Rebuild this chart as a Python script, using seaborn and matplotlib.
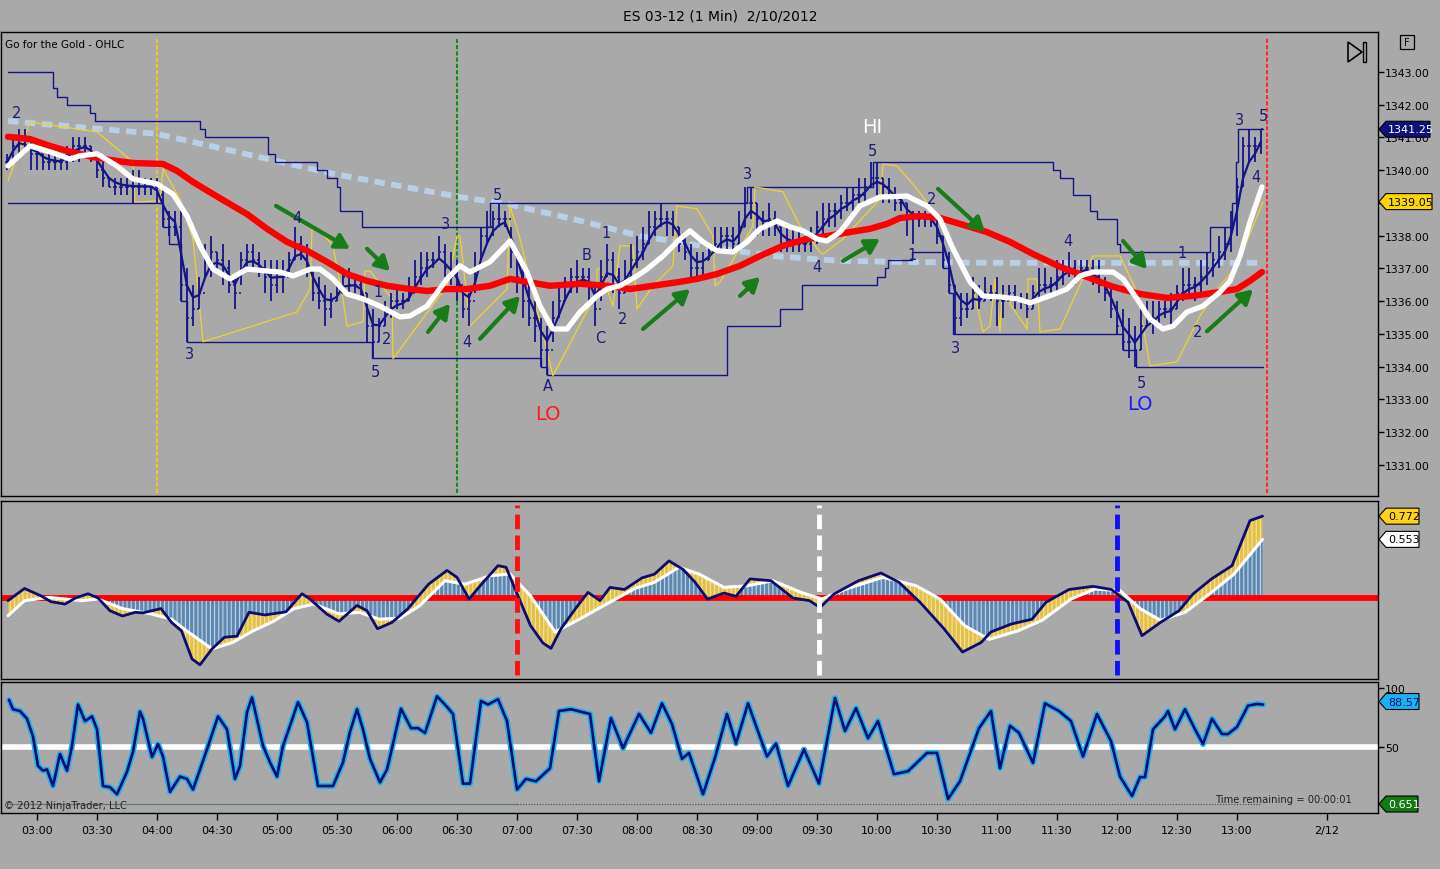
import numpy as np
import pandas as pd
import matplotlib
matplotlib.use("Agg")
import matplotlib.pyplot as plt
import matplotlib.transforms as mtransforms
from matplotlib.patches import Polygon, Rectangle
from matplotlib.ticker import FuncFormatter
import seaborn as sns

# ======================= DATA =======================
# 3-minute OHLC bars (ES 03-12), first bar at 02:45, minutes after midnight
bar_first_minute = 165
bar_minutes_step = 3
bar_high = [
    1340.5, 1341.0, 1341.25, 1341.25, 1341.0, 1340.75, 1340.5, 1340.5, 1340.5, 1340.5,
    1340.75, 1341.0, 1341.0, 1341.0, 1340.75, 1340.5, 1340.25, 1339.75, 1339.75, 1339.75,
    1339.75, 1340.0, 1340.0, 1339.75, 1339.75, 1339.75, 1339.5, 1338.75, 1338.75, 1338.75,
    1337.0, 1336.5, 1336.75, 1337.75, 1338.0, 1337.5, 1337.75, 1337.25, 1336.75, 1337.5,
    1337.75, 1337.75, 1337.5, 1337.25, 1337.25, 1337.25, 1337.25, 1337.5, 1338.25, 1338.0,
    1337.75, 1337.0, 1336.75, 1336.5, 1336.25, 1336.5, 1337.0, 1337.0, 1336.75, 1336.75,
    1336.25, 1335.75, 1335.5, 1336.0, 1336.25, 1336.5, 1336.25, 1336.75, 1337.25, 1337.5,
    1337.5, 1337.5, 1338.0, 1337.75, 1337.5, 1337.25, 1336.25, 1336.25, 1337.5, 1338.25,
    1338.75, 1338.75, 1339.0, 1338.75, 1338.25, 1337.5, 1337.25, 1336.75, 1336.0, 1335.5,
    1335.25, 1336.0, 1336.5, 1336.75, 1337.0, 1337.25, 1337.0, 1337.0, 1336.5, 1337.25,
    1337.75, 1337.5, 1337.0, 1337.25, 1337.75, 1338.0, 1338.25, 1338.75, 1338.75, 1339.0,
    1338.75, 1338.75, 1338.25, 1338.0, 1337.75, 1337.5, 1337.5, 1337.75, 1338.25, 1338.25,
    1338.25, 1338.25, 1338.75, 1339.5, 1339.5, 1339.0, 1338.75, 1339.0, 1338.75, 1338.25,
    1338.25, 1338.25, 1338.25, 1338.0, 1338.25, 1338.75, 1339.0, 1339.0, 1339.0, 1339.25,
    1339.5, 1339.5, 1339.75, 1339.75, 1340.25, 1340.25, 1339.75, 1339.75, 1339.5, 1339.25,
    1339.0, 1338.75, 1338.75, 1338.75, 1338.75, 1338.5, 1338.0, 1337.5, 1336.5, 1336.25,
    1336.25, 1336.75, 1336.5, 1336.75, 1336.5, 1336.75, 1336.5, 1336.5, 1336.5, 1336.25,
    1336.25, 1336.5, 1337.0, 1337.0, 1336.75, 1337.25, 1337.25, 1337.5, 1337.25, 1337.25,
    1337.25, 1337.25, 1337.25, 1336.75, 1336.5, 1336.0, 1335.75, 1335.5, 1335.25, 1335.75,
    1336.0, 1336.0, 1336.0, 1336.0, 1336.25, 1336.5, 1337.0, 1337.0, 1336.75, 1337.25,
    1337.5, 1337.5, 1338.0, 1338.25, 1338.75, 1339.75, 1341.0, 1341.25, 1341.0, 1341.25,
]
bar_low = [
    1340.0, 1340.25, 1340.5, 1340.5, 1340.0, 1340.0, 1340.0, 1340.0, 1340.0, 1340.0,
    1340.0, 1340.25, 1340.25, 1340.5, 1340.25, 1339.75, 1339.5, 1339.5, 1339.25, 1339.25,
    1339.25, 1339.0, 1339.25, 1339.25, 1339.25, 1339.0, 1338.25, 1338.0, 1338.0, 1336.0,
    1334.75, 1335.25, 1335.75, 1336.75, 1336.75, 1337.0, 1336.5, 1336.25, 1335.75, 1336.5,
    1337.0, 1337.0, 1336.75, 1336.25, 1336.0, 1336.25, 1336.25, 1336.75, 1337.25, 1337.25,
    1336.75, 1336.0, 1335.75, 1335.25, 1335.5, 1336.0, 1336.25, 1336.25, 1336.25, 1336.0,
    1334.75, 1334.25, 1334.75, 1335.25, 1335.5, 1335.75, 1335.75, 1336.0, 1336.25, 1336.5,
    1336.75, 1337.0, 1337.25, 1336.75, 1336.5, 1336.0, 1335.5, 1335.25, 1336.25, 1337.25,
    1337.75, 1338.0, 1338.25, 1338.25, 1337.0, 1336.25, 1335.5, 1335.25, 1334.75, 1334.0,
    1333.75, 1334.75, 1335.5, 1336.0, 1336.25, 1336.25, 1336.5, 1336.0, 1335.25, 1336.0,
    1336.75, 1336.25, 1335.75, 1336.25, 1336.75, 1337.0, 1337.25, 1337.75, 1338.0, 1338.25,
    1338.0, 1338.0, 1337.5, 1337.25, 1336.75, 1336.75, 1336.75, 1337.25, 1337.5, 1337.5,
    1337.5, 1337.5, 1337.75, 1338.25, 1338.5, 1338.0, 1338.0, 1338.0, 1338.0, 1337.5,
    1337.5, 1337.5, 1337.5, 1337.5, 1337.5, 1337.75, 1338.0, 1338.25, 1338.25, 1338.5,
    1338.75, 1338.75, 1339.0, 1339.0, 1339.5, 1339.25, 1339.0, 1339.0, 1338.75, 1338.75,
    1338.0, 1337.75, 1338.25, 1338.25, 1338.25, 1337.75, 1337.0, 1336.25, 1335.0, 1335.25,
    1335.5, 1335.75, 1335.75, 1336.0, 1336.0, 1335.25, 1335.5, 1336.0, 1335.75, 1335.75,
    1335.5, 1335.75, 1336.0, 1336.25, 1336.25, 1336.25, 1336.5, 1336.75, 1336.5, 1336.75,
    1336.75, 1336.5, 1336.25, 1336.0, 1335.5, 1335.0, 1334.5, 1334.25, 1334.0, 1334.5,
    1335.25, 1335.0, 1335.25, 1335.5, 1335.25, 1335.75, 1336.0, 1336.25, 1336.0, 1336.25,
    1336.5, 1336.75, 1337.0, 1337.25, 1337.5, 1338.0, 1339.5, 1340.25, 1340.25, 1340.5,
]
bar_close = [
    1340.25, 1340.75, 1341.0, 1340.75, 1340.5, 1340.5, 1340.25, 1340.25, 1340.25, 1340.25,
    1340.5, 1340.75, 1340.75, 1340.75, 1340.5, 1340.0, 1339.75, 1339.5, 1339.5, 1339.5,
    1339.5, 1339.5, 1339.5, 1339.5, 1339.5, 1339.25, 1338.5, 1338.25, 1338.25, 1336.5,
    1335.5, 1335.75, 1336.25, 1337.25, 1337.5, 1337.25, 1337.0, 1336.5, 1336.25, 1337.25,
    1337.5, 1337.25, 1337.0, 1336.75, 1336.5, 1336.75, 1336.75, 1337.25, 1337.75, 1337.5,
    1337.0, 1336.25, 1336.0, 1335.75, 1336.0, 1336.25, 1336.75, 1336.5, 1336.5, 1336.25,
    1335.25, 1334.75, 1335.25, 1335.75, 1336.0, 1336.0, 1336.0, 1336.25, 1336.75, 1337.0,
    1337.25, 1337.25, 1337.5, 1337.0, 1336.75, 1336.5, 1335.75, 1336.0, 1337.0, 1338.0,
    1338.25, 1338.5, 1338.5, 1338.5, 1337.5, 1336.75, 1336.0, 1335.5, 1335.25, 1334.5,
    1334.5, 1335.5, 1336.0, 1336.5, 1336.75, 1336.75, 1336.75, 1336.5, 1335.75, 1336.75,
    1337.25, 1336.75, 1336.25, 1336.75, 1337.25, 1337.5, 1337.75, 1338.25, 1338.5, 1338.5,
    1338.5, 1338.25, 1337.75, 1337.5, 1337.0, 1337.0, 1337.25, 1337.5, 1337.75, 1338.0,
    1338.0, 1337.75, 1338.25, 1339.0, 1339.0, 1338.5, 1338.25, 1338.5, 1338.25, 1337.75,
    1337.75, 1337.75, 1337.75, 1337.75, 1338.0, 1338.25, 1338.5, 1338.75, 1338.75, 1339.0,
    1339.0, 1339.25, 1339.25, 1339.5, 1339.75, 1339.75, 1339.5, 1339.25, 1339.0, 1339.0,
    1338.5, 1338.5, 1338.5, 1338.5, 1338.5, 1338.0, 1337.25, 1336.5, 1335.5, 1335.75,
    1335.75, 1336.25, 1336.0, 1336.25, 1336.25, 1336.0, 1336.0, 1336.25, 1336.0, 1336.0,
    1335.75, 1336.25, 1336.5, 1336.5, 1336.5, 1336.75, 1337.0, 1337.0, 1336.75, 1337.0,
    1337.0, 1336.75, 1336.5, 1336.25, 1335.75, 1335.25, 1334.75, 1334.75, 1334.5, 1335.25,
    1335.5, 1335.5, 1335.75, 1335.75, 1335.75, 1336.25, 1336.5, 1336.5, 1336.5, 1336.75,
    1337.0, 1337.25, 1337.5, 1337.75, 1338.5, 1339.5, 1340.75, 1340.75, 1340.75, 1341.25,
]

# fast moving average (white)
fast_t = [165.5, 176.5, 186.5, 196.5, 201.5, 210, 220, 228, 240, 248, 255, 261.5, 268, 276.5, 285,
          295, 301.5, 308, 316.5, 321.5, 328, 335, 343, 351.5, 361.5, 366.5, 375, 385, 391.5, 396.5,
          406.5, 416.5, 425, 431.5, 438, 445, 451.5, 460, 465, 471.5, 480, 485, 493, 501.5, 506.5,
          513, 520, 528, 535, 541.5, 550, 556.5, 563, 570, 575, 581.5, 591.5, 601.5, 615, 625,
          631.5, 638, 646.5, 653, 661.5, 670, 676.5, 685, 695, 701.5, 708, 718, 723, 730, 736.5,
          743, 748, 755, 763, 771.5, 776.5, 781.5, 786.5, 792.5]
fast_v = [1340.13, 1340.74, 1340.56, 1340.34, 1340.44, 1340.5, 1340.13, 1339.73, 1339.58, 1339.27,
          1338.6, 1337.69, 1336.98, 1336.68, 1336.98, 1336.92, 1336.89, 1336.77, 1336.98, 1336.98,
          1336.68, 1336.22, 1336.07, 1335.85, 1335.52, 1335.55, 1335.85, 1336.68, 1337.08, 1336.89,
          1337.2, 1337.84, 1336.89, 1335.85, 1335.15, 1335.15, 1335.67, 1336.16, 1336.37, 1336.47,
          1336.77, 1336.98, 1337.38, 1337.9, 1338.15, 1337.81, 1337.54, 1337.5, 1337.81, 1338.21,
          1338.45, 1338.27, 1338.15, 1337.9, 1337.84, 1338.11, 1338.91, 1339.18, 1339.21, 1338.91,
          1338.51, 1337.6, 1336.59, 1336.16, 1336.13, 1336.07, 1335.95, 1336.13, 1336.37, 1336.77,
          1336.89, 1336.89, 1336.68, 1336.07, 1335.46, 1335.15, 1335.24, 1335.67, 1335.85, 1336.28,
          1336.62, 1337.38, 1338.42, 1339.49]

# slow moving average (red)
slow_t = [165.5, 176.5, 186.5, 195, 208, 220, 228, 243, 250, 258, 268, 278, 285, 295, 305,
          315, 325, 335, 345, 355, 366.5, 375, 385, 395, 406.5, 416.5, 425, 436.5, 451.5, 465,
          476.5, 488, 501.5, 510, 520, 531.5, 541.5, 553, 565, 575, 586.5, 596.5, 605, 611.5, 621.5,
          631.5, 641.5, 655, 666.5, 678, 691.5, 705, 718, 731.5, 745, 758, 768, 780, 786.5, 792.5]
slow_v = [1341.02, 1340.95, 1340.74, 1340.59, 1340.4, 1340.28, 1340.22, 1340.19, 1339.98, 1339.64,
          1339.27, 1338.91, 1338.66, 1338.21, 1337.81, 1337.54, 1337.2, 1336.83, 1336.62, 1336.47,
          1336.37, 1336.31, 1336.37, 1336.37, 1336.47, 1336.68, 1336.59, 1336.47, 1336.53, 1336.47,
          1336.37, 1336.47, 1336.59, 1336.68, 1336.83, 1337.08, 1337.38, 1337.69, 1337.9, 1337.99,
          1338.11, 1338.21, 1338.36, 1338.54, 1338.6, 1338.54, 1338.36, 1338.11, 1337.81, 1337.44,
          1337.05, 1336.74, 1336.44, 1336.22, 1336.1, 1336.16, 1336.25, 1336.37, 1336.62, 1336.89]

# long trend average (light blue dashed)
trend_t = [165.5, 240, 328, 391.5, 415, 448, 481.5, 515, 548, 581.5, 611.5, 658, 725, 792.5]
trend_v = [1341.5, 1341.11, 1339.89, 1339.18, 1338.97, 1338.51, 1337.99, 1337.66, 1337.38, 1337.23,
           1337.2, 1337.17, 1337.17, 1337.17]

# price channel (navy step lines)
upper_t = [165.5, 188, 190, 195, 206.5, 209, 261.5, 264, 295.5, 299, 320, 325, 330, 331.5, 342.5,
           406.5, 535, 598, 688, 691.5, 698, 706.5, 710, 720, 721.5, 766.5, 777.5, 779.5, 780.5, 793]
upper_v = [1343.0, 1342.5, 1342.25, 1342.0, 1341.75, 1341.5, 1341.25, 1341.0, 1340.5, 1340.25,
           1340.0, 1339.75, 1339.5, 1338.75, 1338.25, 1339.0, 1339.5, 1340.25, 1340.0, 1339.75,
           1339.25, 1338.75, 1338.5, 1337.75, 1337.5, 1338.25, 1339.0, 1340.25, 1341.25, 1341.25]
lower_t = [165.5, 243, 246, 252, 255, 347.5, 432, 435, 524, 525, 551.5, 562.5, 600, 604, 605.5,
           617.5, 633, 636, 638, 723, 729.5, 793]
lower_v = [1339.0, 1338.25, 1337.75, 1336.0, 1334.75, 1334.25, 1334.0, 1333.75, 1333.75, 1335.25,
           1335.75, 1336.5, 1336.75, 1337.0, 1337.25, 1337.5, 1337.0, 1336.25, 1335.0, 1334.5,
           1334.0, 1334.0]

# thin yellow trailing line
trail_t = [165.5, 176.5, 210, 228, 229, 241.5, 243, 251.5, 258, 263, 310, 316.5, 317.5, 321.5, 328,
           333, 335, 343, 344, 346.5, 357.5, 358, 385, 390, 391.5, 396.5, 415, 416.5, 421.5, 438,
           460, 460, 461.5, 468, 471.5, 478, 480, 488, 498, 500, 510, 518, 519, 521.5, 538,
           539, 553, 561.5, 571.5, 573, 583, 601.5, 603, 610, 620, 630, 641.5, 648, 653, 656.5,
           659, 661.5, 662.5, 675, 675.5, 680, 681.5, 691.5, 708, 721.5, 730, 736.5, 750, 761.5,
           771.5, 780, 793]
trail_v = [1339.67, 1341.47, 1341.17, 1340.25, 1339.03, 1339.06, 1340.04, 1339.12, 1337.9, 1334.76,
           1335.67, 1336.37, 1338.21, 1338.15, 1337.69, 1336.07, 1335.24, 1335.37, 1336.92, 1336.92,
           1336.07, 1334.24, 1336.47, 1337.99, 1337.99, 1335.24, 1336.37, 1338.91, 1337.9, 1333.72,
           1336.28, 1336.98, 1336.98, 1335.85, 1337.69, 1337.69, 1335.76, 1336.47, 1337.08, 1338.91,
           1338.82, 1337.99, 1336.47, 1336.59, 1338.3, 1339.49, 1339.34, 1338.3, 1337.5, 1337.44,
           1337.9, 1339.12, 1340.19, 1340.13, 1339.43, 1338.6, 1337.08, 1336.47, 1335.06, 1335.24,
           1336.68, 1335.06, 1336.28, 1335.15, 1336.68, 1336.68, 1335.06, 1335.15, 1337.38, 1337.38,
           1336.28, 1334.02, 1334.15, 1335.55, 1336.47, 1337.08, 1339.04]

# wave labels
wave_text = ["2", "3", "4", "5", "1", "2", "3", "4", "5", "A", "B", "C", "1", "2", "3", "4", "5",
             "1", "2", "3", "4", "5", "1", "2", "3", "5", "4"]
wave_t = [170, 256.5, 310, 349, 350.5, 355, 384, 395, 410, 435.5, 455, 461.5, 464.5, 473, 535.5,
          570, 597.5, 617.5, 627.5, 639, 695.5, 732, 752.5, 760.5, 781.5, 793, 789.5]
wave_p = [1341.75, 1334.4, 1338.57, 1333.84, 1336.28, 1334.85, 1338.36, 1334.76, 1339.27, 1333.41,
          1337.44, 1334.9, 1338.11, 1335.46, 1339.89, 1337.05, 1340.59, 1337.44, 1339.15, 1334.6,
          1337.84, 1333.53, 1337.5, 1335.06, 1341.56, 1341.66, 1339.82]
big_text = ["LO", "HI", "LO"]
big_t = [435.5, 597.5, 731.5]
big_p = [1332.56, 1341.32, 1332.86]
big_color = ["#ff1a1a", "white", "#1a1aff"]

# green arrows (start time, start price, end time, end price)
arrow_t0 = [299.5, 345, 375.5, 401.5, 483, 531.5, 583, 630.5, 723, 765]
arrow_p0 = [1338.91, 1337.6, 1335.06, 1334.85, 1335.15, 1336.16, 1337.23, 1339.43, 1337.84, 1335.08]
arrow_t1 = [336.5, 356.5, 386.5, 421.5, 506.5, 541.5, 601.5, 654, 735, 788]
arrow_p1 = [1337.6, 1336.92, 1335.92, 1336.16, 1336.37, 1336.74, 1337.9, 1338.11, 1336.98, 1336.36]

# MACD panel
macd_t = [165.5, 173.75, 182, 187, 194, 199.25, 205.5, 210.5, 216.5, 222.75, 229, 233, 242, 247.25,
          252.25, 257.5, 261.5, 267.5, 273.75, 280, 286, 294, 304.5, 312.5, 316.5, 324.75, 331, 340,
          345, 350.25, 357.5, 365.5, 375.75, 385, 390, 396, 402.25, 410.5, 414.5, 420.5, 426.75, 433,
          437, 442, 449.25, 455.5, 461.5, 466.5, 473.75, 482.5, 488.75, 496, 503, 509, 515.25, 523.5,
          529.5, 536.5, 547, 558, 566.25, 571.5, 578.5, 590.75, 602, 611, 621.5, 633.5, 642.75, 652,
          657, 667.25, 677.5, 684.5, 696, 708, 717.25, 725.5, 732.5, 741.75, 751, 758, 767.25, 777.5,
          786.5, 792.75]
macd_v = [-0.025, 0.09, 0.02, -0.035, -0.057, 0.0, 0.04, 0.0, -0.12, -0.17, -0.135, -0.14, -0.10,
          -0.23, -0.31, -0.575, -0.63, -0.48, -0.37, -0.36, -0.135, -0.16, -0.13, 0.04, -0.01, -0.15,
          -0.22, -0.07, -0.12, -0.29, -0.23, -0.10, 0.13, 0.26, 0.195, -0.01, 0.13, 0.305, 0.29, 0.02,
          -0.26, -0.425, -0.475, -0.29, -0.10, 0.053, -0.025, 0.10, 0.08, 0.19, 0.225, 0.35, 0.27,
          0.15, -0.01, 0.047, 0.016, 0.18, 0.163, 0.0, -0.025, -0.09, 0.038, 0.163, 0.236, 0.148,
          -0.04, -0.29, -0.51, -0.42, -0.32, -0.245, -0.2, -0.04, 0.08, 0.11, 0.08, -0.04, -0.355,
          -0.23, -0.12, 0.038, 0.18, 0.305, 0.73, 0.772]
signal_t = [165.5, 173.75, 186, 202.3, 210.5, 222.75, 237, 247.25, 255.5, 267.5, 277.75, 288, 298.25,
            308.5, 318.5, 331, 341, 351.25, 361.5, 371.5, 384, 394, 406.5, 416.5, 426.75, 439, 451.25,
            463.5, 479, 488.75, 501, 511, 523.5, 535.5, 548, 562, 572.5, 584.5, 603, 619.5, 631.5,
            643.75, 656, 670.5, 682.5, 697, 709, 721.5, 731.5, 741.75, 754, 766.25, 778.5, 792.75]
signal_v = [-0.167, -0.025, 0.006, -0.025, -0.01, -0.10, -0.15, -0.2, -0.32, -0.48, -0.42, -0.31,
            -0.22, -0.10, -0.057, -0.15, -0.135, -0.2, -0.19, -0.07, 0.163, 0.13, 0.21, 0.226, 0.02,
            -0.32, -0.2, -0.07, 0.09, 0.148, 0.29, 0.226, 0.1, 0.116, 0.163, 0.053, -0.01, 0.085,
            0.195, 0.116, -0.01, -0.26, -0.39, -0.31, -0.21, -0.01, 0.085, 0.07, -0.10, -0.21, -0.135,
            0.038, 0.226, 0.553]

# Stochastic panel
stoch_t = [166, 168, 171.5, 175, 178, 180.5, 183, 185, 188, 191.5, 195, 197.5, 200.5, 204, 207.5,
           210, 213, 216.5, 220, 225, 228, 231.5, 233, 237.5, 240.5, 243, 246.5, 251.5, 255, 258,
           265, 270.5, 275, 279, 281.5, 285, 287.5, 293, 296.5, 300, 303, 306.5, 310.5, 315, 320.5,
           324, 328, 333, 336.5, 340, 343, 346.5, 351.5, 355, 356, 362, 367, 370.5, 374, 380,
           384.5, 388, 393, 396.5, 402, 405.5, 410.5, 415, 420, 424.5, 429.5, 436.5, 441, 447, 450.5,
           456.5, 461, 467, 473, 481, 487, 492.5, 497.5, 502.5, 506, 513, 519, 525, 529.5, 535.5,
           545, 549.5, 555.5, 563.5, 571, 579, 584, 589.5, 595.5, 600.5, 608.5, 615.5, 625, 630,
           635.5, 641.5, 651, 657, 661.5, 666.5, 671, 678, 684, 691, 697, 703, 710, 717, 721.5,
           727.5, 731.5, 734, 738, 744, 745.5, 749, 754, 759, 763, 767.5, 772.5, 775.5, 780, 785.5,
           790, 793]
stoch_v = [90, 82, 80.5, 74, 59, 34, 30, 31, 17, 44, 30, 51, 86, 72, 76, 65, 17, 16, 10, 29, 46, 80,
           74, 41.5, 52.5, 42, 12, 25, 23, 14, 48, 76, 65, 23, 34, 79.5, 92, 51, 37, 25, 51, 68, 88,
           71, 17, 17, 17, 37, 63, 82, 65, 40, 20, 31, 38, 82.5, 66, 66, 62, 93, 85, 78, 19, 19, 89,
           86, 90.5, 72, 14, 23, 21, 32, 80.5, 82, 80.5, 78, 21, 74.5, 49, 78, 62, 87, 69.5, 40, 45,
           10, 41, 78, 53, 87, 42, 53, 17, 48, 19, 91.5, 63.5, 83, 57.5, 72, 27, 29.5, 45, 45, 6, 21,
           66, 80.5, 32, 68, 62, 36.5, 87, 80.5, 72, 42, 78, 55, 25, 8.5, 24.5, 24.5, 65, 76, 80.5,
           65, 82, 65, 52.5, 74, 61, 61, 67, 85, 86.5, 86]
aux_level = 1.7      # faint green indicator at bottom of stochastic panel

# x axis ticks (minutes after midnight)
tick_minutes = [180, 210, 240, 270, 300, 330, 360, 390, 420, 450, 480, 510, 540, 570, 600, 630, 660,
                690, 720, 750, 780, 825]
tick_labels = ["03:00", "03:30", "04:00", "04:30", "05:00", "05:30", "06:00", "06:30", "07:00",
               "07:30", "08:00", "08:30", "09:00", "09:30", "10:00", "10:30", "11:00", "11:30",
               "12:00", "12:30", "13:00", "2/12"]
price_ticks = [1331, 1332, 1333, 1334, 1335, 1336, 1337, 1338, 1339, 1340, 1341, 1342, 1343]
hidden_price_tick = 1339   # covered by the yellow value tag in the reference

# ======================= STYLE =======================
BG = "#a9a9a9"
NAVY = "#14148a"
sns.set_theme(style="white")
plt.rcParams["font.family"] = ["DejaVu Sans"]
plt.rcParams["hatch.linewidth"] = 0.8

W, H = 1440, 870
fig = plt.figure(figsize=(14.4, 8.7), dpi=100, facecolor=BG)


def rect(x0, y0, x1, y1):
    return [x0 / W, 1 - y1 / H, (x1 - x0) / W, (y1 - y0) / H]


ax_p = fig.add_axes(rect(1, 33, 1378, 497))
ax_m = fig.add_axes(rect(1, 502, 1378, 680))
ax_s = fig.add_axes(rect(1, 683, 1378, 814))
XLIM = (162, 850.5)

for ax in (ax_p, ax_m, ax_s):
    ax.set_facecolor(BG)
    for sp in ax.spines.values():
        sp.set_color("black")
        sp.set_linewidth(1.0)
    ax.grid(False)


def sline(ax, t, v, **kw):
    sns.lineplot(x=np.asarray(t, float), y=np.asarray(v, float), ax=ax,
                 estimator=None, sort=False, **kw)


# ---------------- price panel ----------------
bt = bar_first_minute + bar_minutes_step * np.arange(len(bar_high))
bh = np.asarray(bar_high)
bl = np.asarray(bar_low)
bc = np.asarray(bar_close)
bo = np.r_[bc[0], bc[:-1]]

sline(ax_p, trend_t, trend_v, color="#b9cfe6", linewidth=4.2, linestyle=(0, (1.8, 1.1)), zorder=1)
ax_p.step(upper_t, upper_v, where="post", color=NAVY, lw=1.0, zorder=2)
ax_p.step(lower_t, lower_v, where="post", color=NAVY, lw=1.0, zorder=2)
ax_p.plot(trail_t, trail_v, color="#f2d22e", lw=0.9, zorder=2)

ax_p.vlines(bt, bl, bh, color=NAVY, lw=1.3, zorder=3)
ax_p.hlines(bc, bt, bt + 1.2, color=NAVY, lw=1.1, zorder=3)
ax_p.hlines(bo, bt - 1.2, bt, color=NAVY, lw=1.1, zorder=3)
navy_ma = pd.Series(bc).ewm(span=3).mean().to_numpy()
sline(ax_p, bt, navy_ma, color=NAVY, linewidth=1.6, zorder=3.5)

sline(ax_p, slow_t, slow_v, color="#ff0000", linewidth=4.6, zorder=4,
      solid_joinstyle="round", solid_capstyle="round")
sline(ax_p, fast_t, fast_v, color="white", linewidth=3.8, zorder=5,
      solid_joinstyle="round", solid_capstyle="round")

ax_p.axvline(240, ymin=0.006, ymax=0.985, color="#f2c61a", lw=1.5, ls=(0, (2, 1)), zorder=1.5)
ax_p.axvline(390, ymin=0.006, ymax=0.985, color="#1a8a1a", lw=1.5, ls=(0, (2, 1)), zorder=1.5)
ax_p.axvline(795, ymin=0.006, ymax=0.99, color="#ff2a2a", lw=1.5, ls=(0, (2, 1)), zorder=1.5)

for s, t, p in zip(wave_text, wave_t, wave_p):
    ax_p.text(t, p, s, ha="center", va="center", color="#1c1c78", fontsize=10.5, zorder=8)
for s, t, p, c in zip(big_text, big_t, big_p, big_color):
    ax_p.text(t, p, s, ha="center", va="center", color=c, fontsize=14, zorder=8)
for t0, p0, t1, p1 in zip(arrow_t0, arrow_p0, arrow_t1, arrow_p1):
    ax_p.annotate("", xy=(t1, p1), xytext=(t0, p0), zorder=7,
                  arrowprops=dict(arrowstyle="-|>,head_length=0.7,head_width=0.4",
                                  color="#187c18", lw=3.0, shrinkA=0, shrinkB=0))

ax_p.set_xlim(*XLIM)
ax_p.set_ylim(1330.05, 1344.22)
ax_p.yaxis.tick_right()
ax_p.set_yticks(price_ticks)
ax_p.yaxis.set_major_formatter(
    FuncFormatter(lambda v, pos: "" if abs(v - hidden_price_tick) < 1e-6 else f"{v:.2f}"))
ax_p.tick_params(axis="y", direction="out", length=4, width=1, pad=1, labelsize=7.8,
                 colors="black", right=True, left=False)
ax_p.set_xticks([])
ax_p.set_xlabel("")
ax_p.set_ylabel("")
ax_p.text(0.003, 0.975, "Go for the Gold - OHLC", transform=ax_p.transAxes, ha="left",
          va="center", fontsize=7.5, color="black")

# ---------------- MACD panel ----------------
ax_m.fill_between(signal_t, 0, signal_v, facecolor="#5c88b2", edgecolor="#c4d5e4",
                  hatch="||||", linewidth=0, zorder=2)
ax_m.axhline(0, color="#ff0000", lw=4.2, zorder=2.5)
ax_m.fill(np.r_[macd_t, signal_t[::-1]], np.r_[macd_v, signal_v[::-1]],
          facecolor="#e2c04a", edgecolor="#f4e39a", hatch="||||", linewidth=0, zorder=3)
sline(ax_m, signal_t, signal_v, color="white", linewidth=2.2, zorder=4)
sline(ax_m, macd_t, macd_v, color="#0c0c6e", linewidth=2.0, zorder=5)
ax_m.axvline(420, ymin=0.022, ymax=0.978, color="#ff1010", lw=3.5, ls=(0, (3, 1.3)), zorder=6)
ax_m.axvline(571, ymin=0.022, ymax=0.978, color="white", lw=3.5, ls=(0, (3, 1.3)), zorder=6)
ax_m.axvline(720, ymin=0.022, ymax=0.978, color="#1010ff", lw=3.5, ls=(0, (3, 1.3)), zorder=6)
ax_m.set_xlim(*XLIM)
ax_m.set_ylim(-0.764, 0.915)
ax_m.set_xticks([])
ax_m.set_yticks([])
ax_m.set_xlabel("")
ax_m.set_ylabel("")

# ---------------- Stochastic panel ----------------
ax_s.axhline(50, color="white", lw=4.0, zorder=2)
ax_s.plot([bar_first_minute, 420], [aux_level, aux_level], color="#5f7f5f", lw=0.9, zorder=2)
ax_s.plot([420, bt[-1]], [aux_level, aux_level], color="#3d4d3d", lw=0.8, ls=(0, (1, 1.5)), zorder=2)
sline(ax_s, stoch_t, stoch_v, color="#1ab2ef", linewidth=4.2, zorder=3,
      solid_joinstyle="round")
sline(ax_s, stoch_t, stoch_v, color="#0c0c6e", linewidth=1.9, zorder=4,
      solid_joinstyle="round")
ax_s.set_xlim(*XLIM)
ax_s.set_ylim(-5.9, 105.1)
ax_s.yaxis.tick_right()
ax_s.set_yticks([50, 100])
ax_s.set_yticklabels(["50", "100"])
ax_s.tick_params(axis="y", direction="out", length=4, width=1, pad=1, labelsize=7.8,
                 colors="black", right=True, left=False)
ax_s.set_xticks(tick_minutes)
ax_s.set_xticklabels(tick_labels)
ax_s.tick_params(axis="x", direction="out", length=5, width=1, pad=4, labelsize=8,
                 colors="black", bottom=True)
ax_s.set_xlabel("")
ax_s.set_ylabel("")
ax_s.text(0.002, 0.06, "\u00a9 2012 NinjaTrader, LLC", transform=ax_s.transAxes, ha="left",
          va="center", fontsize=7.2, color="#222222")
ax_s.text(0.882, 0.11, "Time remaining = 00:00:01", transform=ax_s.transAxes, ha="left",
          va="center", fontsize=7.2, color="#222222")

# ---------------- right-side value tags ----------------
ID = mtransforms.IdentityTransform()


def tag(ax, value, text, fc, tc, width):
    yd = ax.transData.transform((XLIM[0], value))[1]
    x0, h = 1379, 8
    poly = Polygon([(x0, yd), (x0 + 7, yd + h), (x0 + width, yd + h), (x0 + width, yd - h),
                    (x0 + 7, yd - h)], closed=True, transform=ID, facecolor=fc,
                   edgecolor="black", lw=0.8, zorder=30)
    fig.add_artist(poly)
    fig.text(x0 + 9, yd, text, transform=ID, ha="left", va="center", fontsize=8,
             color=tc, zorder=31)


tag(ax_p, bar_close[-1], f"{bar_close[-1]:.2f}", "#10107a", "white", 51)
tag(ax_p, trail_v[-1], "1339.05", "#ffd700", "black", 53)
tag(ax_m, macd_v[-1], f"{macd_v[-1]:.3f}", "#ffd21a", "black", 40)
tag(ax_m, signal_v[-1], f"{signal_v[-1]:.3f}", "white", "black", 40)
tag(ax_s, 88.57, "88.57", "#1ab2ef", "#0c0c6e", 40)
tag(ax_s, aux_level, "0.651", "#137a13", "white", 39)

# ---------------- chrome ----------------
fig.text(0.5, 1 - 16 / H, "ES 03-12 (1 Min)  2/10/2012", ha="center", va="center",
         fontsize=10, color="black")
fig.add_artist(Rectangle((1400, H - 50), 14, 14, transform=ID, facecolor="none",
                         edgecolor="black", lw=0.9))
fig.text(1407, H - 43, "F", transform=ID, ha="center", va="center", fontsize=7, color="black")
fig.add_artist(Polygon([(1348, H - 43), (1348, H - 63), (1362, H - 53)], closed=True,
                       transform=ID, facecolor="none", edgecolor="black", lw=1.2))
fig.add_artist(Rectangle((1363, H - 63), 3, 20, transform=ID, facecolor="none",
                         edgecolor="black", lw=1.0))

fig.savefig("out.png", dpi=100, facecolor=BG)
